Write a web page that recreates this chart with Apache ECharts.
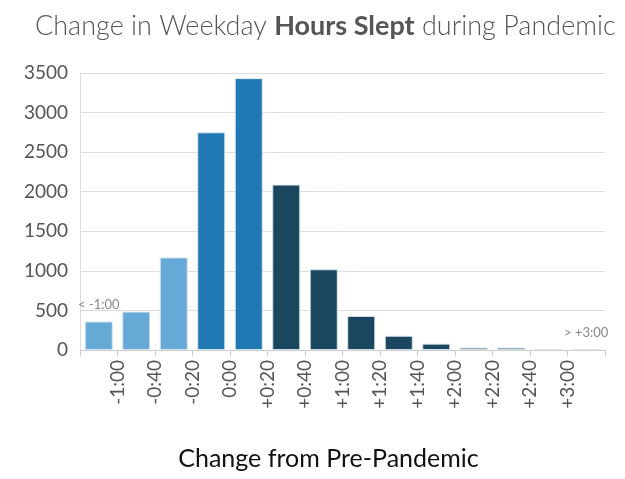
<!DOCTYPE html>
<html>
<head>
<meta charset="utf-8">
<script src="https://cdn.jsdelivr.net/npm/echarts@6/dist/echarts.min.js"></script>
<style>
  html, body { margin: 0; padding: 0; background: #fff; }
  #chart { width: 625px; height: 479px; }
</style>
</head>
<body>
<div id="chart"></div>
<script>
// bins of 20 minutes, first and last are open-ended
const binCenters = [0.5, 1.5, 2.5, 3.5, 4.5, 5.5, 6.5, 7.5, 8.5, 9.5, 10.5, 11.5, 12.5, 13.5];
const counts = [360, 485, 1170, 2750, 3435, 2090, 1020, 430, 180, 80, 30, 30, 8, 8];
const binColors = ['#67a9d6', '#67a9d6', '#67a9d6', '#1f77b4', '#1f77b4',
  '#1a4660', '#1a4660', '#1a4660', '#1a4660', '#1a4660', '#1a4660', '#1a4660', '#1a4660', '#1a4660'];
const tickLabels = ['-1:00', '-0:40', '-0:20', '0:00', '+0:20', '+0:40', '+1:00',
  '+1:20', '+1:40', '+2:00', '+2:20', '+2:40', '+3:00'];
const edgeLabels = { 0: '< -1:00', 13: '> +3:00' };

const chart = echarts.init(document.getElementById('chart'));

const barData = counts.map((v, i) => {
  const item = {
    value: [binCenters[i], v],
    itemStyle: { color: binColors[i] }
  };
  if (edgeLabels[i]) {
    item.label = {
      show: true,
      position: 'top',
      distance: 10,
      formatter: edgeLabels[i],
      color: '#888',
      fontSize: 13,
      fontFamily: 'Lato'
    };
  }
  return item;
});

chart.setOption({
  animation: false,
  title: {
    text: 'Change in Weekday {b|Hours Slept} during Pandemic',
    left: 30,
    top: 8,
    textStyle: {
      fontFamily: 'Lato',
      fontWeight: 300,
      fontSize: 27,
      color: '#555',
      rich: {
        b: { fontFamily: 'Lato', fontWeight: 'bold', fontSize: 27, color: '#555' }
      }
    }
  },
  grid: { left: 80, right: 20, top: 73, bottom: 129 },
  xAxis: {
    type: 'value',
    min: 0,
    max: 14,
    interval: 1,
    name: 'Change from Pre-Pandemic',
    nameLocation: 'middle',
    nameGap: 96,
    nameTextStyle: { fontFamily: 'Lato', fontSize: 25, color: '#111', padding: [0, 28, 0, 0] },
    splitLine: { show: false },
    axisLine: { show: true, lineStyle: { color: '#ccc' } },
    axisTick: { show: true, length: 6, lineStyle: { color: '#ccc' } },
    axisLabel: {
      rotate: 90,
      margin: 10,
      fontFamily: 'Lato',
      fontSize: 19,
      color: '#555',
      formatter: v => tickLabels[v - 1] || ''
    }
  },
  yAxis: {
    type: 'value',
    min: 0,
    max: 3500,
    interval: 500,
    axisLine: { show: true, lineStyle: { color: '#ddd' } },
    axisTick: { show: false },
    splitLine: { lineStyle: { color: '#ddd' } },
    axisLabel: { fontFamily: 'Lato', fontSize: 19, color: '#555', margin: 12, formatter: v => String(v) }
  },
  series: [{
    type: 'bar',
    data: barData,
    barWidth: 28,
    itemStyle: { borderColor: 'rgba(220,232,240,0.9)', borderWidth: 1 }
  }]
});
</script>
</body>
</html>
